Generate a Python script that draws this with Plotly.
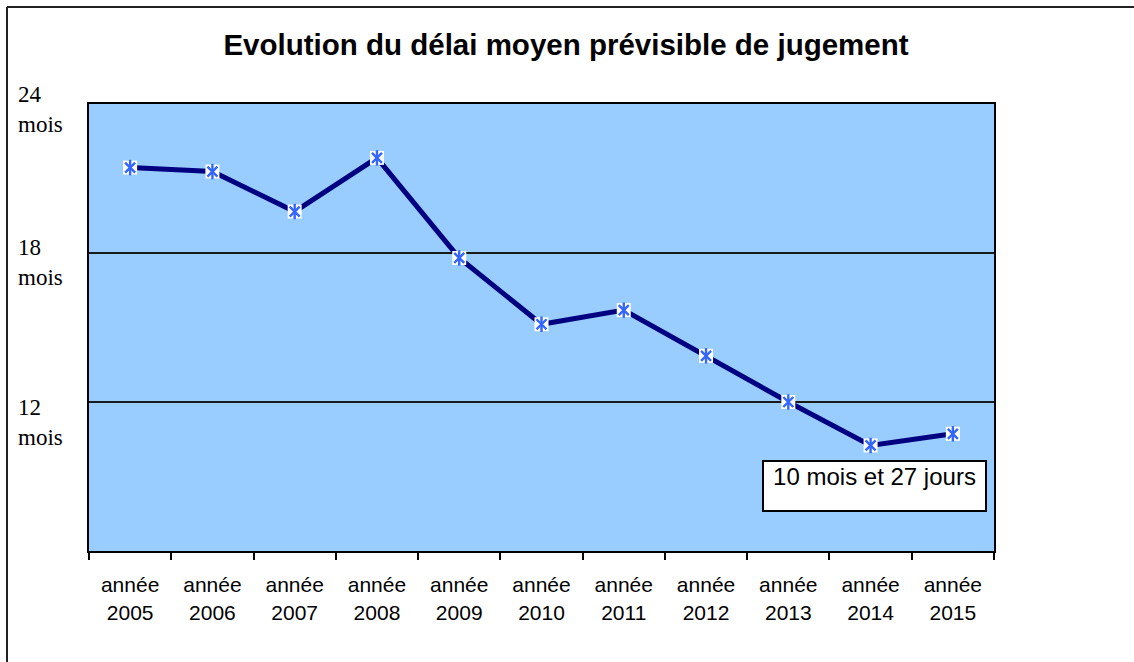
import plotly.graph_objects as go

# ---- data ----
years = ["2005", "2006", "2007", "2008", "2009", "2010", "2011", "2012", "2013", "2014", "2015"]
delai_mois = [21.44, 21.28, 19.67, 21.83, 17.80, 15.13, 15.70, 13.86, 12.00, 10.25, 10.72]
y_label_values = [24, 18, 12]
y_label_texts = ["24<br>mois", "18<br>mois", "12<br>mois"]
title_text = "Evolution du délai moyen prévisible de jugement"
note_text = "10 mois et 27 jours"

categories = ["année<br>" + y for y in years]

W, H = 1134, 662
ML, MR, MT, MB = 89, 140, 104, 111
PW, PH = W - ML - MR, H - MT - MB

def px_x(p):
    return (p - ML) / PW

def px_y(p):
    return (H - MB - p) / PH

fig = go.Figure()
fig.add_trace(go.Scatter(
    x=categories, y=delai_mois, mode="lines+markers",
    line=dict(color="#000080", width=5),
    marker=dict(symbol="square", size=14, color="white", line=dict(width=0)),
    hoverinfo="skip", showlegend=False,
))
fig.add_trace(go.Scatter(
    x=categories, y=delai_mois, mode="markers",
    marker=dict(symbol="x-thin-open", size=10, color="#3366FF", line=dict(color="#3366FF", width=2.4)),
    hoverinfo="skip", showlegend=False,
))
fig.add_trace(go.Scatter(
    x=categories, y=delai_mois, mode="markers",
    marker=dict(symbol="line-ns-open", size=11, color="#3366FF", line=dict(color="#3366FF", width=2.4)),
    hoverinfo="skip", showlegend=False,
))

label_shifts = [-5, -9, -20]
annotations = []
for v, t, s in zip(y_label_values, y_label_texts, label_shifts):
    annotations.append(dict(
        x=px_x(16), xref="paper", xanchor="left",
        y=v, yref="y", yanchor="middle", yshift=s,
        text=t, showarrow=False, align="left",
        font=dict(family="Liberation Serif", size=23, color="black"),
    ))

annotations.append(dict(
    x=px_x(874.5), xref="paper", y=px_y(486), yref="paper",
    xanchor="center", yanchor="middle",
    text=note_text, showarrow=False,
    width=219, height=46, valign="top", align="center",
    bordercolor="black", borderwidth=2, borderpad=1, bgcolor="white",
    font=dict(family="Liberation Sans", size=24, color="black"),
))

shapes = [
    dict(type="line", xref="paper", yref="paper",
         x0=px_x(7), x1=px_x(1150), y0=px_y(7), y1=px_y(7),
         line=dict(color="#222", width=2)),
    dict(type="line", xref="paper", yref="paper",
         x0=px_x(7), x1=px_x(7), y0=px_y(7), y1=px_y(680),
         line=dict(color="#222", width=2)),
]

fig.update_layout(
    width=W, height=H,
    margin=dict(l=ML, r=MR, t=MT, b=MB),
    paper_bgcolor="white", plot_bgcolor="#99CCFF",
    title=dict(text="<b>" + title_text + "</b>", x=px_x(566), xref="paper", xanchor="center",
               y=1 - 45 / H, yref="container", yanchor="middle",
               font=dict(family="Liberation Sans", size=29.5, color="black")),
    annotations=annotations,
    shapes=shapes,
    showlegend=False,
)
fig.update_xaxes(
    type="category", range=[-0.5, len(categories) - 0.5],
    tickson="boundaries", ticks="outside", ticklen=7, tickwidth=2, tickcolor="black",
    showline=True, linecolor="black", linewidth=2, mirror=True,
    showgrid=False, ticklabelstandoff=14,
    tickfont=dict(family="Liberation Sans", size=21, color="black"),
)
fig.update_yaxes(
    range=[6, 24], tickvals=[6, 12, 18, 24], showticklabels=False, ticks="",
    showgrid=True, gridcolor="#1a1a1a", gridwidth=1.8, zeroline=False,
    showline=True, linecolor="black", linewidth=2, mirror=True,
)

fig.write_html("out.html", config={"displayModeBar": False},
               post_script="document.body.style.margin='0';")
